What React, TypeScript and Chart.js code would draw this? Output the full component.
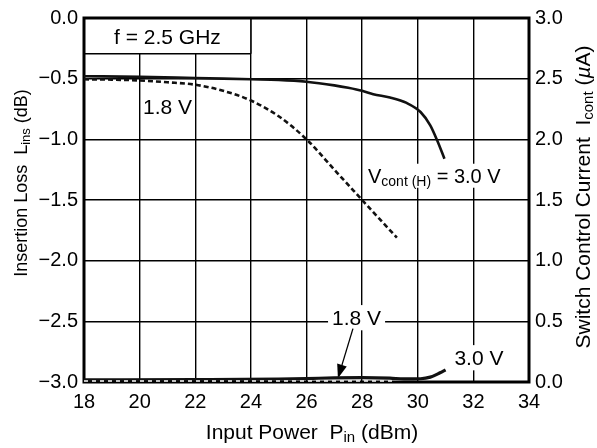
import React, { useEffect, useRef } from "react";
import { Chart, registerables } from "chart.js";
Chart.register(...registerables);

const FAMILY = '"Liberation Sans", Arial, Helvetica, sans-serif';

// Input power (dBm) x ticks
const xTickValues = [18, 20, 22, 24, 26, 28, 30, 32, 34];
const leftTickValues = [-3.0, -2.5, -2.0, -1.5, -1.0, -0.5, 0.0];
const leftTickLabels = ["\u22123.0", "\u22122.5", "\u22122.0", "\u22121.5", "\u22121.0", "\u22120.5", "0.0"];
const rightTickValues = [0.0, 0.5, 1.0, 1.5, 2.0, 2.5, 3.0];
const rightTickLabels = ["0.0", "0.5", "1.0", "1.5", "2.0", "2.5", "3.0"];

// Insertion loss, Vcont(H) = 3.0 V (solid)
const loss30P = [18, 20, 22, 24, 25, 26, 27, 27.5, 28, 28.4, 29, 29.6, 30.1, 30.45, 30.7, 30.96];
const loss30 = [-0.48, -0.485, -0.495, -0.505, -0.51, -0.525, -0.555, -0.575, -0.6, -0.628, -0.655, -0.7, -0.775, -0.885, -1.01, -1.16];

// Insertion loss, Vcont(H) = 1.8 V (dashed)
const loss18P = [18, 19, 20, 21, 22, 23, 24, 25, 26, 27, 28, 28.6, 29.25];
const loss18 = [-0.505, -0.508, -0.515, -0.53, -0.55, -0.6, -0.68, -0.81, -1.0, -1.25, -1.5, -1.65, -1.81];

// Switch control current, 3.0 V (solid)
const cur30P = [18, 22, 25, 26, 27, 28, 29, 29.5, 30.1, 30.45, 30.8, 31.0];
const cur30 = [0.018, 0.02, 0.024, 0.028, 0.034, 0.036, 0.032, 0.025, 0.027, 0.04, 0.076, 0.1];

// Switch control current, 1.8 V (dashed)
const cur18P = [18, 22, 26, 29.2];
const cur18 = [0.008, 0.008, 0.008, 0.008];

type Part = { t: string; sub?: boolean; it?: boolean };

function fontFor(p: Part, size: number) {
  const subSize = Math.round(size * 0.7);
  return `${p.it ? "italic " : ""}${p.sub ? subSize : size}px ${FAMILY}`;
}

function richWidth(ctx: CanvasRenderingContext2D, parts: Part[], size: number) {
  let w = 0;
  parts.forEach((p) => {
    ctx.font = fontFor(p, size);
    w += ctx.measureText(p.t).width;
  });
  return w;
}

function drawRich(ctx: CanvasRenderingContext2D, parts: Part[], x: number, y: number, align: string, size: number) {
  const w = richWidth(ctx, parts, size);
  let cx = align === "center" ? x - w / 2 : align === "left" ? x : x - w;
  const base = y + size * 0.36;
  ctx.textBaseline = "alphabetic";
  ctx.textAlign = "left";
  ctx.fillStyle = "#000";
  parts.forEach((p) => {
    ctx.font = fontFor(p, size);
    ctx.fillText(p.t, cx, base + (p.sub ? size * 0.16 : 0));
    cx += ctx.measureText(p.t).width;
  });
  return w;
}

const decorPlugin = {
  id: "decor",
  beforeDatasetsDraw(chart: any) {
    const ctx: CanvasRenderingContext2D = chart.ctx;
    const xs = chart.scales.x;
    const ys = chart.scales.y;
    const a = chart.chartArea;
    ctx.save();
    // f = 2.5 GHz box
    const bx1 = xs.getPixelForValue(24);
    const by1 = ys.getPixelForValue(-0.295);
    ctx.fillStyle = "#fff";
    ctx.fillRect(a.left, a.top, bx1 - a.left, by1 - a.top);
    ctx.strokeStyle = "#000";
    ctx.lineWidth = 1.5;
    ctx.beginPath();
    ctx.moveTo(a.left, by1);
    ctx.lineTo(bx1, by1);
    ctx.moveTo(bx1, a.top);
    ctx.lineTo(bx1, by1);
    ctx.stroke();
    drawRich(ctx, [{ t: "f = 2.5 GHz" }], (a.left + bx1) / 2, ys.getPixelForValue(-0.155), "center", 21);

    // labels with white backgrounds
    const boxed = (parts: Part[], px: number, py: number, align: string, size: number) => {
      const w = richWidth(ctx, parts, size);
      const left = align === "center" ? px - w / 2 : px;
      ctx.fillStyle = "#fff";
      ctx.fillRect(left - 4, py - size * 0.6, w + 8, size * 1.2);
      drawRich(ctx, parts, px, py, align, size);
    };
    drawRich(ctx, [{ t: "1.8 V" }], xs.getPixelForValue(20.12), ys.getPixelForValue(-0.725), "left", 21);
    boxed(
      [{ t: "V" }, { t: "cont (H)", sub: true }, { t: " = 3.0 V" }],
      xs.getPixelForValue(28.21),
      ys.getPixelForValue(-1.3),
      "left",
      20
    );
    boxed([{ t: "1.8 V" }], xs.getPixelForValue(27.8), ys.getPixelForValue(-2.47), "center", 21);
    boxed([{ t: "3.0 V" }], xs.getPixelForValue(32.2), ys.getPixelForValue(-2.8), "center", 21);

    // arrow
    const yr = chart.scales.y2;
    const tx = xs.getPixelForValue(27.67), ty = yr.getPixelForValue(0.44);
    const hx = xs.getPixelForValue(27.13), hy = yr.getPixelForValue(0.03);
    ctx.strokeStyle = "#000";
    ctx.lineWidth = 1.3;
    ctx.beginPath();
    ctx.moveTo(tx, ty);
    ctx.lineTo(hx, hy);
    ctx.stroke();
    const ang = Math.atan2(hy - ty, hx - tx);
    const L = 14, W = 5;
    ctx.fillStyle = "#000";
    ctx.beginPath();
    ctx.moveTo(hx, hy);
    ctx.lineTo(hx - L * Math.cos(ang) + W * Math.sin(ang), hy - L * Math.sin(ang) - W * Math.cos(ang));
    ctx.lineTo(hx - L * Math.cos(ang) - W * Math.sin(ang), hy - L * Math.sin(ang) + W * Math.cos(ang));
    ctx.closePath();
    ctx.fill();

    // frame
    ctx.strokeStyle = "#000";
    ctx.lineWidth = 3;
    ctx.strokeRect(a.left, a.top, a.right - a.left, a.bottom - a.top);

    // axis titles
    drawRich(
      ctx,
      [{ t: "Input Power  P" }, { t: "in", sub: true }, { t: " (dBm)" }],
      312,
      431,
      "center",
      21
    );
    ctx.save();
    ctx.translate(21, 183);
    ctx.rotate(-Math.PI / 2);
    drawRich(ctx, [{ t: "Insertion Loss  L" }, { t: "ins", sub: true }, { t: " (dB)" }], 0, 0, "center", 18);
    ctx.restore();
    ctx.save();
    ctx.translate(582, 197);
    ctx.rotate(-Math.PI / 2);
    drawRich(
      ctx,
      [{ t: "Switch Control Current  I" }, { t: "cont", sub: true }, { t: " (" }, { t: "\u00b5", it: true }, { t: "A)" }],
      0,
      0,
      "center",
      21
    );
    ctx.restore();
    ctx.restore();
  },
};

export default function App() {
  const ref = useRef<HTMLCanvasElement | null>(null);
  useEffect(() => {
    if (!ref.current) return;
    const pts = (xs: number[], ys: number[]) => xs.map((x, i) => ({ x, y: ys[i] }));
    const chart = new Chart(ref.current, {
      type: "line",
      data: {
        datasets: [
          {
            data: pts(loss30P, loss30),
            yAxisID: "y",
            borderColor: "#111",
            borderWidth: 2.6,
            pointRadius: 0,
            cubicInterpolationMode: "monotone",
            order: 2,
          },
          {
            data: pts(loss18P, loss18),
            yAxisID: "y",
            borderColor: "#111",
            borderWidth: 2.6,
            borderDash: [5, 3],
            pointRadius: 0,
            cubicInterpolationMode: "monotone",
            order: 3,
          },
          {
            data: pts(cur30P, cur30),
            yAxisID: "y2",
            borderColor: "#111",
            borderWidth: 3.2,
            pointRadius: 0,
            cubicInterpolationMode: "monotone",
            clip: 10,
            order: 4,
          },
          {
            data: pts(cur18P, cur18),
            yAxisID: "y2",
            borderColor: "#fff",
            borderWidth: 1.4,
            borderDash: [4, 4],
            pointRadius: 0,
            clip: 10,
            order: -1,
          },
        ],
      } as any,
      options: {
        animation: false,
        responsive: false,
        events: [],
        layout: { padding: { top: 14, left: 0, right: 0, bottom: 0 } },
        plugins: { legend: { display: false }, tooltip: { enabled: false } },
        scales: {
          x: {
            type: "linear",
            min: 18,
            max: 34,
            afterBuildTicks: (s: any) => {
              s.ticks = xTickValues.map((v) => ({ value: v }));
            },
            afterFit: (s: any) => {
              s.height = 66;
            },
            ticks: {
              color: "#000",
              font: { family: FAMILY, size: 20 },
              padding: 8,
              maxRotation: 0,
              callback: (v: any) => String(v),
            },
            grid: { color: "#000", lineWidth: 1.4, drawTicks: false },
            border: { display: false },
          },
          y: {
            type: "linear",
            position: "left",
            min: -3,
            max: 0,
            afterBuildTicks: (s: any) => {
              s.ticks = leftTickValues.map((v) => ({ value: v }));
            },
            afterFit: (s: any) => {
              s.width = 84;
            },
            ticks: {
              color: "#000",
              font: { family: FAMILY, size: 20 },
              padding: 6,
              callback: (_v: any, i: number) => leftTickLabels[i],
            },
            grid: { color: "#000", lineWidth: 1.4, drawTicks: false },
            border: { display: false },
          },
          y2: {
            type: "linear",
            position: "right",
            min: 0,
            max: 3,
            afterBuildTicks: (s: any) => {
              s.ticks = rightTickValues.map((v) => ({ value: v }));
            },
            afterFit: (s: any) => {
              s.width = 68;
            },
            ticks: {
              color: "#000",
              font: { family: FAMILY, size: 20 },
              padding: 6,
              callback: (_v: any, i: number) => rightTickLabels[i],
            },
            grid: { display: false, drawTicks: false },
            border: { display: false },
          },
        },
      } as any,
      plugins: [decorPlugin],
    });
    return () => chart.destroy();
  }, []);
  return (
    <div style={{ position: "fixed", left: 0, top: 0, width: 597, height: 448, background: "#fff" }}>
      <canvas ref={ref} width={597} height={448} style={{ width: 597, height: 448, display: "block" }} />
    </div>
  );
}
